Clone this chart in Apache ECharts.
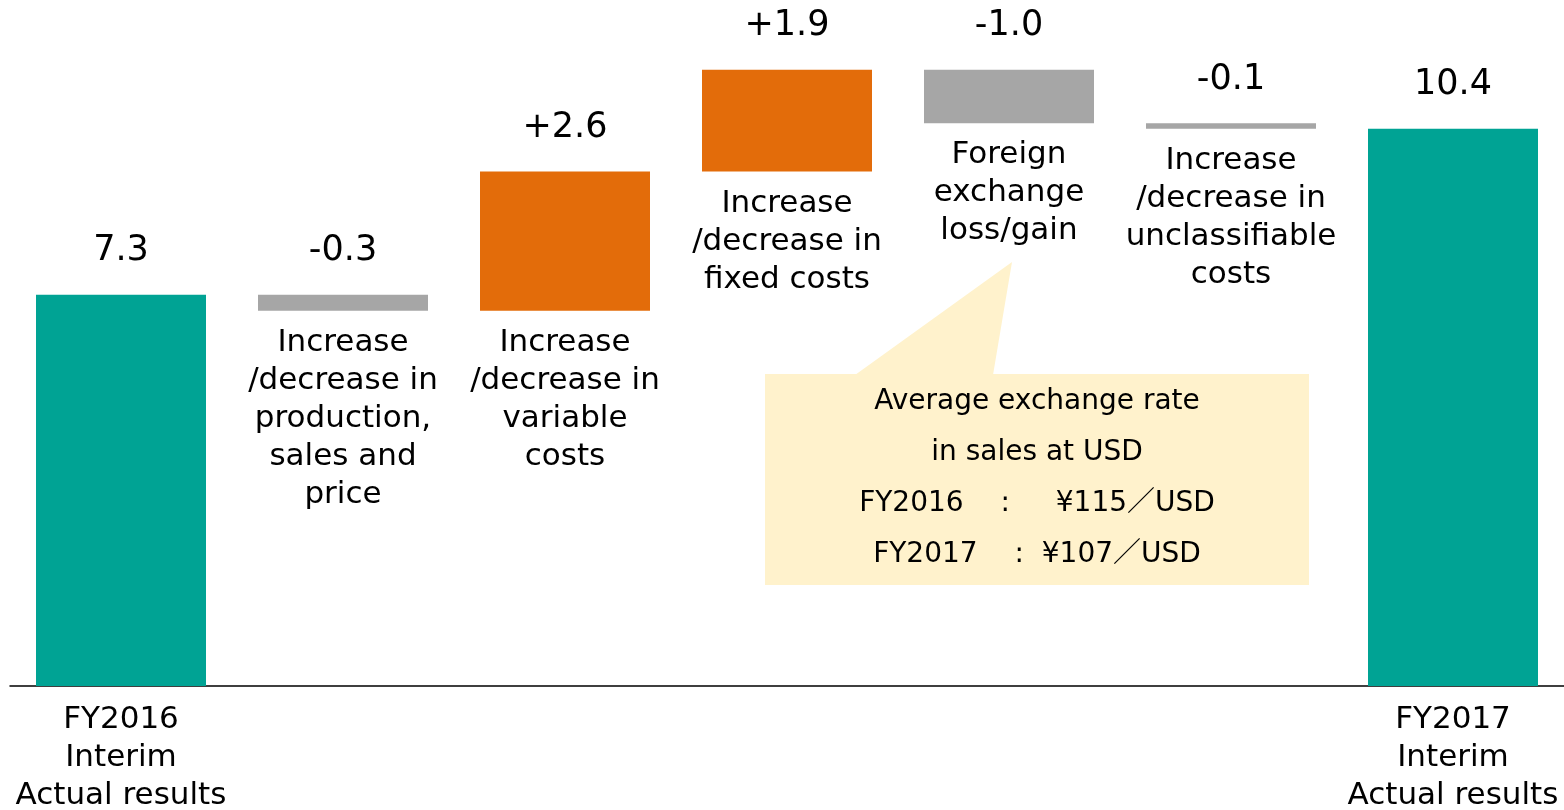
<!DOCTYPE html>
<html>
<head>
<meta charset="utf-8">
<script src="https://cdn.jsdelivr.net/npm/echarts@6/dist/echarts.min.js"></script>
<style>
  html, body { margin: 0; padding: 0; background: #fff; }
  #main { width: 1564px; height: 810px; }
</style>
</head>
<body>
<div id="main"></div>
<script>
var categories = [
  'FY2016\nInterim\nActual results',
  'Increase\n/decrease in\nproduction,\nsales and\nprice',
  'Increase\n/decrease in\nvariable\ncosts',
  'Increase\n/decrease in\nfixed costs',
  'Foreign\nexchange\nloss/gain',
  'Increase\n/decrease in\nunclassifiable\ncosts',
  'FY2017\nInterim\nActual results'
];
var startValue = 7.3;
var deltas = [-0.3, 2.6, 1.9, -1.0, -0.1];
var endValue = 10.4;
var deltaLabels = ['-0.3', '+2.6', '+1.9', '-1.0', '-0.1'];
var noteLines = [
  'Average exchange rate',
  'in sales at USD',
  'FY2016　 :　  ¥115／USD',
  'FY2017　 :  ¥107／USD'
];

var FONT = "'DejaVu Sans', 'Noto Sans CJK JP', sans-serif";
var TEAL = '#00A394', ORANGE = '#E36C0A', GRAY = '#A6A6A6';

// waterfall: transparent base + visible step
var base = [0], visible = [startValue], colors = [TEAL], valueText = [startValue.toFixed(1)];
var running = startValue;
deltas.forEach(function (d, i) {
  var next = Math.round((running + d) * 10) / 10;
  base.push(Math.min(running, next));
  visible.push(Math.abs(d));
  colors.push(d >= 0 ? ORANGE : GRAY);
  valueText.push(deltaLabels[i]);
  running = next;
});
base.push(0);
visible.push(endValue);
colors.push(TEAL);
valueText.push(endValue.toFixed(1));

var myChart = echarts.init(document.getElementById('main'));
var option = {
  animation: false,
  textStyle: { fontFamily: FONT },
  grid: { left: 10, right: 0, top: 0, bottom: 124, containLabel: false, outerBoundsMode: 'none' },
  xAxis: {
    type: 'category',
    data: categories,
    axisLine: { lineStyle: { color: '#000', width: 1.5 } },
    axisTick: { show: false },
    axisLabel: {
      interval: 0,
      margin: 15,
      color: '#000',
      fontSize: 31,
      lineHeight: 38,
      fontFamily: FONT,
      formatter: function (v, idx) {
        return (idx === 0 || idx === categories.length - 1) ? v : '';
      }
    }
  },
  yAxis: {
    type: 'value',
    min: 0,
    max: 12.8,
    show: false,
    splitLine: { show: false }
  },
  series: [
    {
      type: 'bar',
      stack: 'wf',
      barWidth: 170,
      itemStyle: { color: 'transparent' },
      label: {
        show: true,
        position: 'insideTop',
        distance: 13,
        color: '#000',
        fontSize: 31,
        lineHeight: 38,
        fontFamily: FONT,
        formatter: function (p) {
          return (p.dataIndex === 0 || p.dataIndex === categories.length - 1) ? '' : categories[p.dataIndex];
        }
      },
      data: base
    },
    {
      type: 'bar',
      stack: 'wf',
      barWidth: 170,
      data: visible.map(function (v, i) {
        return { value: v, itemStyle: { color: colors[i] } };
      }),
      label: {
        show: true,
        position: 'top',
        distance: 26,
        color: '#000',
        fontSize: 35,
        fontFamily: FONT,
        formatter: function (p) { return valueText[p.dataIndex]; }
      }
    }
  ],
  graphic: [
    {
      type: 'polygon',
      z: 1,
      shape: { points: [[855, 375], [1012, 262], [993, 375]] },
      style: { fill: '#FFF2CC' }
    },
    {
      type: 'rect',
      z: 1,
      shape: { x: 765, y: 374, width: 544, height: 211 },
      style: { fill: '#FFF2CC' }
    },
    {
      type: 'text',
      z: 2,
      x: 1037,
      y: 376,
      style: {
        text: noteLines.join('\n'),
        fill: '#000',
        font: '28px ' + FONT,
        lineHeight: 51,
        align: 'center',
        verticalAlign: 'top'
      }
    }
  ]
};
myChart.setOption(option);
</script>
</body>
</html>
